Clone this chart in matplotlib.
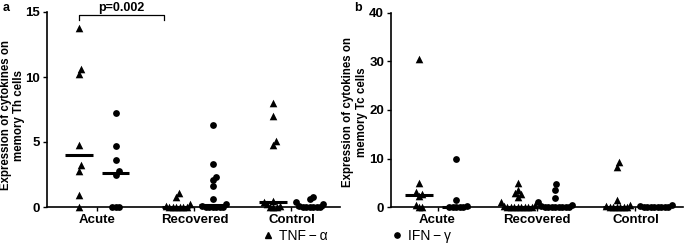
import numpy as np
import matplotlib
matplotlib.use("Agg")
import matplotlib.pyplot as plt
from matplotlib.lines import Line2D

plt.rcParams['font.family'] = ['Liberation Sans', 'DejaVu Sans']

categories = ["Acute", "Recovered", "Control"]

# Panel a: memory Th cells
th_tnf = [
    [13.8, 10.6, 10.2, 4.8, 3.2, 2.8, 0.9, 0.0],
    [1.1, 0.8, 0.2, 0.1, 0.0, 0.0, 0.0, 0.0, 0.0, 0.0],
    [8.0, 7.0, 5.1, 4.8, 0.5, 0.4, 0.2, 0.1, 0.0, 0.0, 0.0],
]
th_ifn = [
    [7.2, 4.7, 3.6, 2.8, 2.5, 0.0, 0.0, 0.0],
    [6.3, 3.3, 2.3, 2.1, 1.6, 0.6, 0.2, 0.1, 0.0, 0.0, 0.0, 0.0, 0.0, 0.0],
    [0.8, 0.6, 0.4, 0.2, 0.1, 0.0, 0.0, 0.0, 0.0, 0.0, 0.0],
]
# Panel b: memory Tc cells
tc_tnf = [
    [30.5, 5.0, 3.0, 2.6, 2.2, 0.5, 0.0, 0.0],
    [4.9, 3.5, 2.8, 2.7, 2.0, 1.0, 0.5, 0.2, 0.0, 0.0, 0.0, 0.0, 0.0, 0.0, 0.0, 0.0],
    [9.2, 8.3, 1.5, 0.5, 0.2, 0.0, 0.0, 0.0, 0.0, 0.0, 0.0],
]
tc_ifn = [
    [10.0, 1.4, 0.2, 0.0, 0.0, 0.0, 0.0, 0.0],
    [4.8, 3.5, 1.8, 1.0, 0.5, 0.2, 0.0, 0.0, 0.0, 0.0, 0.0, 0.0, 0.0, 0.0],
    [0.4, 0.2, 0.1, 0.0, 0.0, 0.0, 0.0, 0.0, 0.0, 0.0],
]

th_yticks = [0, 5, 10, 15]
tc_yticks = [0, 10, 20, 30, 40]
p_label = "p=0.002"
legend_labels = ["TNF\u2009\u2212\u2009\u03b1", "IFN\u2009\u2212\u2009\u03b3"]

W, H = 685, 243
fig = plt.figure(figsize=(W / 100, H / 100), dpi=100)
axa = fig.add_axes([47 / W, 36 / H, 293 / W, 195 / H])
axb = fig.add_axes([391 / W, 36 / H, 292 / W, 194 / H])

OFF = 0.19
HALF = 0.14
RX, RY = 3.2, 6.5  # collision radii in pixels (x, y)


def swarm(ax, values, center):
    x0, x1 = ax.get_xlim()
    y0, y1 = ax.get_ylim()
    sx = ax.bbox.width / (x1 - x0)
    sy = ax.bbox.height / (y1 - y0)
    placed = []
    xs, ys = [], []
    cands = [0.0]
    for k in range(1, 200):
        cands += [k * 0.5, -k * 0.5]
    for v in sorted(values):
        yp = v * sy
        for c in cands:
            if all(((c - px) / RX) ** 2 + ((yp - py) / RY) ** 2 >= 1
                   for px, py in placed):
                break
        placed.append((c, yp))
        xs.append(center + c / sx)
        ys.append(v)
    return xs, ys


def panel(ax, tnf, ifn, ymax, yticks, ylabel, xlim):
    ax.set_xlim(*xlim)
    ax.set_ylim(0, ymax)
    for i in range(len(categories)):
        for vals, off, mk, s in ((tnf[i], -OFF, '^', 30), (ifn[i], OFF, 'o', 24)):
            xs, ys = swarm(ax, vals, i + off)
            ax.scatter(xs, ys, marker=mk, s=s, color='black', linewidths=0,
                       clip_on=False, zorder=3)
            med = np.median(vals)
            ax.plot([i + off - HALF, i + off + HALF], [med, med], color='black',
                    lw=2.2, solid_capstyle='butt', clip_on=False, zorder=4)
    for sp in ('top', 'right'):
        ax.spines[sp].set_visible(False)
    for sp in ('left', 'bottom'):
        ax.spines[sp].set_linewidth(1.2)
    ax.set_yticks(yticks)
    ax.set_xticks(range(len(categories)))
    ax.set_xticklabels(categories)
    ax.tick_params(axis='both', direction='out', length=3, width=1.0,
                   labelsize=9.5, pad=2)
    for lab in ax.get_xticklabels() + ax.get_yticklabels():
        lab.set_fontweight('bold')
    ax.set_ylabel(ylabel, fontsize=8.3, fontweight='bold', linespacing=1.2)
    ax.patch.set_visible(False)


panel(axa, th_tnf, th_ifn, 15, th_yticks,
      "Expression of cytokines on\nmemory Th cells", (-0.52, 2.5))
panel(axb, tc_tnf, tc_ifn, 40, tc_yticks,
      "Expression of cytokines on\nmemory Tc cells", (-0.47, 2.48))
axa.yaxis.set_label_coords(-0.074, 0.47)
axb.yaxis.set_label_coords(-0.08, 0.49)

# significance bracket
bx0, bx1 = -OFF, 0.69
axa.plot([bx0, bx0, bx1, bx1], [14.4, 14.78, 14.78, 14.4], color='black',
         lw=0.9, clip_on=False)
axa.text((bx0 + bx1) / 2, 14.85, p_label, ha='center', va='bottom',
         fontsize=9, fontweight='bold')

fig.text(3 / W, 1 - 2 / H, 'a', ha='left', va='top', fontsize=9, fontweight='bold')
fig.text(354 / W, 1 - 2 / H, 'b', ha='left', va='top', fontsize=9, fontweight='bold')

handles = [
    Line2D([], [], marker='^', ls='none', color='black', markersize=5, label=legend_labels[0]),
    Line2D([], [], marker='o', ls='none', color='black', markersize=3.8, label=legend_labels[1]),
]
fig.legend(handles=handles, loc='center', bbox_to_anchor=(357 / W, 7 / H), ncol=2,
           frameon=False, fontsize=10, handlelength=0.8, handletextpad=0.4,
           columnspacing=4.6, borderpad=0)

fig.savefig('out.png', dpi=100)
